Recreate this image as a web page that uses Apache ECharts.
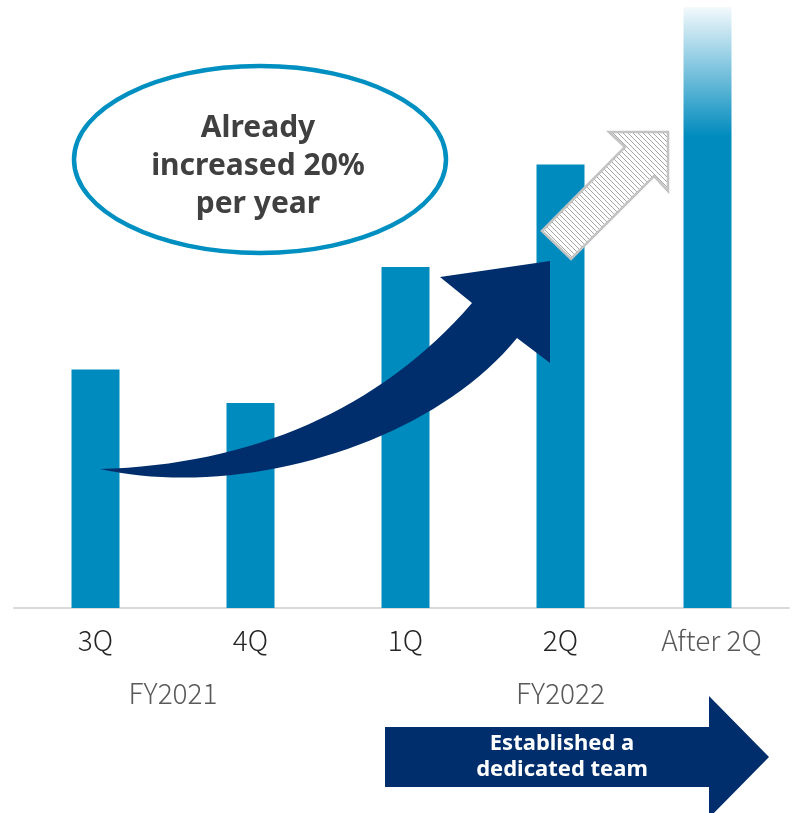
<!DOCTYPE html>
<html>
<head>
<meta charset="utf-8">
<script src="https://cdn.jsdelivr.net/npm/echarts@6/dist/echarts.min.js"></script>
<style>
  html, body { margin: 0; padding: 0; background: #ffffff; }
  #chart { width: 792px; height: 813px; }
</style>
</head>
<body>
<div id="chart"></div>
<script>
// Quarterly volume index (3Q FY2021 = 100) and the projected level after 2Q
const categories = ['3Q', '4Q', '1Q', '2Q', 'After 2Q'];
const quarterValues = [100, 86, 143, 186, null];
const outlookValues = [null, null, null, null, 252];
// Fiscal-year captions, positioned by category index
const fiscalYearLabels = ['FY2021', 'FY2022'];
const fiscalYearPositions = [0.5, 3];

const BAR_BLUE = '#008bbe';
const NAVY = '#002e6d';
const BAR_WIDTH = 48;
const BAR_GAP = -1 - 8 / 48;   // the outlook bar sits slightly left of its slot
const QUARTER_SHIFT = 4;       // resulting right shift of the quarter bars

const chart = echarts.init(document.getElementById('chart'), null, { renderer: 'canvas' });

// curved growth arrow sweeping up from 3Q towards 2Q
const GrowthArrow = echarts.graphic.extendShape({
  shape: {},
  buildPath: function (ctx) {
    ctx.moveTo(100, 469);
    ctx.bezierCurveTo(240, 500, 430, 445, 517, 338);
    ctx.lineTo(550, 363);
    ctx.lineTo(550, 261);
    ctx.lineTo(440, 277);
    ctx.lineTo(472, 303);
    ctx.bezierCurveTo(380, 410, 250, 465, 100, 469);
    ctx.closePath();
  }
});
echarts.graphic.registerShape('growthArrow', GrowthArrow);

// diagonal hatch used for the "next step" arrow
const hatch = document.createElement('canvas');
hatch.width = 5; hatch.height = 5;
(function () {
  const c = hatch.getContext('2d');
  c.fillStyle = '#ffffff';
  c.fillRect(0, 0, 5, 5);
  c.strokeStyle = 'rgba(150,150,150,0.85)';
  c.lineWidth = 1;
  c.beginPath();
  c.moveTo(-1, -1); c.lineTo(6, 6);
  c.moveTo(-1, 4); c.lineTo(1, 6);
  c.moveTo(4, -1); c.lineTo(6, 1);
  c.stroke();
})();

const labelFont = '"Noto Sans CJK JP", "Noto Sans", sans-serif';

chart.setOption({
  animation: false,
  backgroundColor: '#ffffff',
  grid: { left: 14, right: 3, top: 0, bottom: 205 },
  xAxis: {
    type: 'category',
    data: categories,
    axisTick: { show: false },
    axisLine: { lineStyle: { color: '#d9d9d9', width: 2 } },
    axisLabel: {
      margin: 18,
      formatter: function (v) {
        return v === 'After 2Q' ? '{a|' + v + '}' : '{q|' + v + '}';
      },
      rich: {
        q: { fontFamily: labelFont, fontWeight: 300, fontSize: 28, color: '#262626', padding: [0, 0, 0, 8] },
        a: { fontFamily: labelFont, fontWeight: 300, fontSize: 28, color: '#595959' }
      }
    }
  },
  yAxis: { type: 'value', min: 0, max: 255, show: false, splitLine: { show: false } },
  series: [
    {
      type: 'bar',
      data: quarterValues,
      barWidth: BAR_WIDTH,
      barGap: (BAR_GAP * 100) + '%',
      itemStyle: { color: BAR_BLUE }
    },
    {
      type: 'bar',
      data: outlookValues,
      barWidth: BAR_WIDTH,
      itemStyle: {
        color: new echarts.graphic.LinearGradient(0, 0, 0, 1, [
          { offset: 0, color: '#f3f9fc' },
          { offset: 0.215, color: BAR_BLUE },
          { offset: 1, color: BAR_BLUE }
        ])
      }
    }
  ]
});

function catX(pos) {
  const lo = Math.floor(pos), hi = Math.ceil(pos);
  const a = chart.convertToPixel({ xAxisIndex: 0 }, lo);
  const b = chart.convertToPixel({ xAxisIndex: 0 }, hi);
  return a + (b - a) * (pos - lo);
}

const fyGraphics = fiscalYearLabels.map(function (t, i) {
  return {
    type: 'text',
    z: 10,
    style: {
      text: t,
      x: catX(fiscalYearPositions[i]) + QUARTER_SHIFT,
      y: 693,
      align: 'center', verticalAlign: 'middle',
      textAlign: 'center', textVerticalAlign: 'middle',
      font: '300 28px ' + labelFont,
      fill: '#595959'
    }
  };
});

chart.setOption({
  graphic: [
    // callout ellipse
    {
      type: 'ellipse', z: 10,
      shape: { cx: 260, cy: 159.5, rx: 186, ry: 93.5 },
      style: { fill: '#ffffff', stroke: '#008fc1', lineWidth: 4.5 }
    },
    {
      type: 'text', z: 11,
      style: {
        text: 'Already\nincreased 20%\nper year',
        x: 258, y: 166,
        align: 'center', verticalAlign: 'middle',
        textAlign: 'center', textVerticalAlign: 'middle',
        font: 'bold 30px "Noto Sans", sans-serif',
        lineHeight: 38,
        fill: '#404040'
      }
    },
    { type: 'growthArrow', z: 12, shape: {}, style: { fill: NAVY } },
    // hatched continuation arrow
    {
      type: 'polygon', z: 12,
      shape: { points: [[542, 231], [625, 147], [609, 132], [668, 132], [668, 191], [654, 176], [571, 259]] },
      style: { fill: { image: hatch, repeat: 'repeat' }, stroke: '#c3c3c3', lineWidth: 2.5, lineJoin: 'miter' }
    },
    // dedicated team banner arrow
    {
      type: 'polygon', z: 12,
      shape: { points: [[385, 727], [709, 727], [709, 696], [769, 757], [709, 818], [709, 787], [385, 787]] },
      style: { fill: NAVY }
    },
    {
      type: 'text', z: 13,
      style: {
        text: 'Established a\ndedicated team',
        x: 562, y: 757,
        align: 'center', verticalAlign: 'middle',
        textAlign: 'center', textVerticalAlign: 'middle',
        font: 'bold 22px "Noto Sans", sans-serif',
        lineHeight: 26,
        fill: '#ffffff'
      }
    }
  ].concat(fyGraphics)
});
</script>
</body>
</html>
